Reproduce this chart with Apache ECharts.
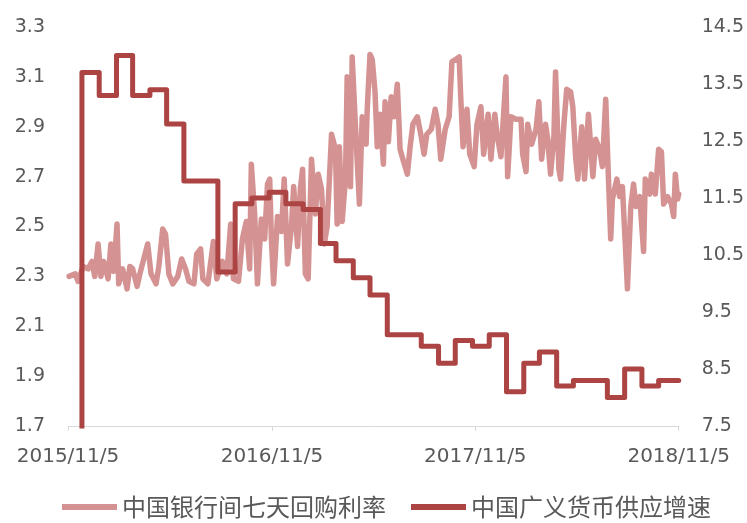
<!DOCTYPE html>
<html>
<head>
<meta charset="utf-8">
<script src="https://cdn.jsdelivr.net/npm/echarts@6/dist/echarts.min.js"></script>
<style>
  html, body { margin: 0; padding: 0; background: #fff; }
  #chart { width: 747px; height: 523px; }
</style>
</head>
<body>
<div id="chart"></div>
<script>
// day offsets from 2015/11/5 and the 7-day interbank repo rate (%)
const repoRate = [
  [2,2.30],[13,2.31],[18,2.28],[27,2.34],[36,2.33],[43,2.36],[48,2.30],[54,2.43],[59,2.30],[64,2.36],
  [72,2.29],[77,2.43],[82,2.32],[88,2.51],[91,2.27],[98,2.33],[106,2.25],[111,2.34],[116,2.33],[124,2.26],
  [129,2.31],[136,2.37],[143,2.43],[149,2.31],[158,2.27],[163,2.34],[170,2.49],[175,2.47],[181,2.31],[188,2.27],
  [197,2.30],[204,2.37],[211,2.33],[217,2.28],[226,2.27],[231,2.39],[238,2.41],[242,2.29],[251,2.27],[261,2.44],
  [267,2.29],[277,2.36],[285,2.31],[292,2.51],[297,2.29],[306,2.28],[313,2.45],[320,2.52],[326,2.33],[329,2.75],
  [335,2.55],[340,2.27],[347,2.53],[353,2.45],[358,2.67],[362,2.69],[365,2.45],[369,2.27],[376,2.54],[383,2.48],
  [388,2.69],[394,2.35],[401,2.50],[405,2.66],[412,2.42],[417,2.65],[421,2.73],[426,2.31],[431,2.29],[437,2.77],
  [444,2.55],[449,2.71],[455,2.65],[460,2.43],[465,2.50],[473,2.87],[480,2.81],[483,2.51],[487,2.82],[492,2.52],
  [498,2.69],[501,3.10],[507,2.66],[510,3.18],[517,2.85],[523,2.59],[528,2.94],[535,2.83],[537,2.97],[542,3.19],
  [546,3.17],[551,3.04],[555,2.82],[560,2.95],[566,2.75],[569,3.00],[575,2.84],[580,3.02],[585,2.94],[591,3.07],
  [596,2.81],[601,2.77],[609,2.71],[614,2.82],[619,2.91],[627,2.94],[634,2.86],[639,2.79],[644,2.87],[652,2.89],
  [659,2.97],[664,2.91],[669,2.77],[677,2.89],[684,2.94],[689,3.16],[696,3.17],[702,3.18],[705,3.01],[709,2.82],
  [716,2.97],[721,2.79],[729,2.74],[734,2.91],[741,2.98],[746,2.79],[754,2.95],[759,2.77],[766,2.95],[770,2.87],
  [777,2.78],[786,3.10],[789,2.70],[795,2.94],[804,2.93],[813,2.93],[816,2.79],[822,2.72],[825,2.91],[832,2.83],
  [840,2.89],[845,3.00],[850,2.77],[857,2.91],[861,2.85],[866,2.71],[872,2.86],[875,3.12],[881,2.73],[884,2.69],
  [890,2.91],[895,3.05],[902,3.04],[906,2.98],[911,2.78],[915,2.69],[922,2.90],[927,2.69],[934,2.95],[942,2.70],
  [947,2.85],[954,2.81],[959,2.74],[965,3.01],[970,2.69],[974,2.45],[977,2.61],[985,2.69],[990,2.62],[995,2.66],
  [1001,2.39],[1004,2.25],[1010,2.58],[1015,2.67],[1019,2.58],[1026,2.62],[1033,2.40],[1036,2.69],[1044,2.63],[1047,2.71],
  [1054,2.63],[1060,2.81],[1065,2.80],[1069,2.59],[1076,2.62],[1083,2.59],[1087,2.54],[1090,2.71],[1094,2.61],[1096,2.63]
]

// M2 growth (%), month-end values
const m2Month = [
  '2015-11','2015-12','2016-01','2016-02','2016-03','2016-04','2016-05','2016-06','2016-07','2016-08',
  '2016-09','2016-10','2016-11','2016-12','2017-01','2017-02','2017-03','2017-04','2017-05','2017-06',
  '2017-07','2017-08','2017-09','2017-10','2017-11','2017-12','2018-01','2018-02','2018-03','2018-04',
  '2018-05','2018-06','2018-07','2018-08','2018-09','2018-10'
]
const m2Growth = [
  13.7, 13.3, 14.0, 13.3, 13.4, 12.8, 11.8, 11.8, 10.2, 11.4,
  11.5, 11.6, 11.4, 11.3, 10.7, 10.4, 10.1, 9.8, 9.1, 9.1,
  8.9, 8.6, 9.0, 8.9, 9.1, 8.1, 8.6, 8.8, 8.2, 8.3,
  8.3, 8.0, 8.5, 8.2, 8.3, 8.3
]

const xTicks = ['2015-11-05', '2016-11-05', '2017-11-05', '2018-11-05']
const leftTicks = [1.7, 1.9, 2.1, 2.3, 2.5, 2.7, 2.9, 3.1, 3.3]
const rightTicks = [7.5, 8.5, 9.5, 10.5, 11.5, 12.5, 13.5, 14.5]
const seriesNames = ['中国银行间七天回购利率', '中国广义货币供应增速']

const DAY = 86400000
function toDate(s) {
  let p = s.split('-').map(Number)
  return Date.UTC(p[0], p[1] - 1, p[2] || 1)
}
const start = toDate(xTicks[0])
function dayOf(t) { return Math.round((t - start) / DAY) }
const tickDays = xTicks.map(s => dayOf(toDate(s)))
const lastDay = tickDays[tickDays.length - 1]

// series is zero before the first month, holds each value until the next month end
let m2Data = [[0, 0]]
m2Month.forEach((m, i) => {
  let p = m.split('-').map(Number)
  m2Data.push([dayOf(Date.UTC(p[0], p[1], 0)), m2Growth[i]])
})
m2Data.push([lastDay, m2Growth[m2Growth.length - 1]])

const gray = '#595959'
const numFont = 'DejaVu Sans'

let chart = echarts.init(document.getElementById('chart'))
chart.setOption({
  animation: false,
  grid: { left: 68, right: 67, top: 27, bottom: 97 },
  legend: {
    top: 495,
    left: 62,
    padding: 0,
    icon: 'rect',
    itemWidth: 55,
    itemHeight: 6,
    itemGap: 25,
    textStyle: { fontFamily: 'Noto Sans CJK SC', fontSize: 24, color: gray },
    data: seriesNames
  },
  xAxis: {
    type: 'value',
    min: 0,
    max: lastDay,
    axisLine: { lineStyle: { color: '#d9d9d9', width: 1 } },
    axisTick: { show: true, length: 5, lineStyle: { color: '#d9d9d9' }, customValues: tickDays },
    splitLine: { show: false },
    axisLabel: {
      customValues: tickDays,
      margin: 21,
      fontFamily: numFont,
      fontSize: 20,
      color: gray,
      formatter: function (v) {
        let d = new Date(start + v * DAY)
        return d.getUTCFullYear() + '/' + (d.getUTCMonth() + 1) + '/' + d.getUTCDate()
      }
    }
  },
  yAxis: [
    {
      type: 'value',
      min: 1.7,
      max: 3.3,
      axisLine: { show: false },
      axisTick: { show: false },
      splitLine: { show: false },
      axisLabel: {
        customValues: leftTicks,
        margin: 23,
        fontFamily: numFont,
        fontSize: 19,
        color: gray,
        formatter: v => v.toFixed(1)
      }
    },
    {
      type: 'value',
      min: 7.5,
      max: 14.5,
      axisLine: { show: false },
      axisTick: { show: false },
      splitLine: { show: false },
      axisLabel: {
        customValues: rightTicks,
        margin: 23,
        fontFamily: numFont,
        fontSize: 19,
        color: gray,
        formatter: v => v.toFixed(1)
      }
    }
  ],
  series: [
    {
      name: seriesNames[0],
      type: 'line',
      yAxisIndex: 0,
      data: repoRate,
      showSymbol: false,
      color: '#d49392',
      lineStyle: { width: 5.5, color: '#d49392', cap: 'round', join: 'round' }
    },
    {
      name: seriesNames[1],
      type: 'line',
      yAxisIndex: 1,
      step: 'end',
      data: m2Data,
      showSymbol: false,
      color: '#ab4443',
      lineStyle: { width: 5, color: '#ab4443', cap: 'round', join: 'round' }
    }
  ]
})
</script>
</body>
</html>
